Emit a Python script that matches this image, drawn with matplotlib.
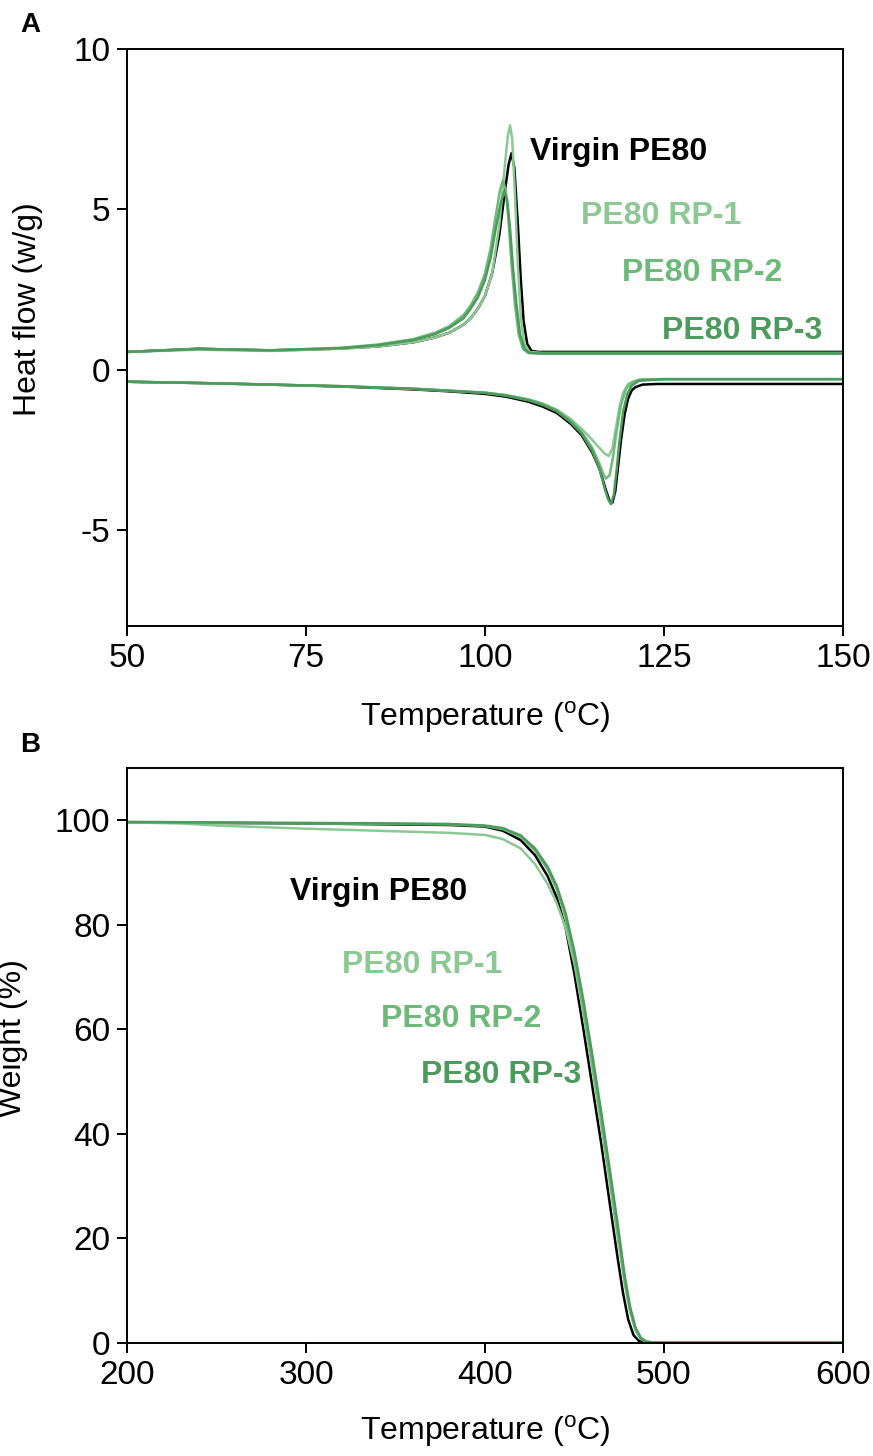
import matplotlib
matplotlib.use('Agg')
from matplotlib import pyplot as plt

plt.rcParams['font.family'] = ['Liberation Sans', 'DejaVu Sans']
plt.rcParams['mathtext.fontset'] = 'custom'
plt.rcParams['mathtext.rm'] = 'Liberation Sans'
plt.rcParams['axes.unicode_minus'] = False

# ---- DSC (panel A): cooling (upper) and heating (lower) curves ----
dsc_cool_virgin_x = [50, 55, 60, 65, 70, 75, 80, 85, 90, 93, 95, 97, 98, 99, 100, 101, 102, 102.8, 103.3, 103.7,
                     104.1, 104.6, 105.0, 105.4, 105.9, 106.5, 107.5, 110, 120, 130, 140, 150]
dsc_cool_virgin_y = [0.55, 0.6, 0.65, 0.62, 0.6, 0.62, 0.66, 0.72, 0.85, 1.0, 1.15, 1.4, 1.6, 1.9, 2.3, 3.0, 4.2, 5.6, 6.4, 6.75,
                     6.3, 4.5, 2.8, 1.5, 0.8, 0.58, 0.55, 0.55, 0.55, 0.55, 0.55, 0.55]
dsc_cool_rp1_x = [50, 60, 70, 80, 85, 90, 93, 95, 97, 98, 99, 100, 101, 102, 102.7, 103.2, 103.5, 103.8,
                  104.2, 104.6, 105.0, 105.5, 106.2, 108, 120, 150]
dsc_cool_rp1_y = [0.55, 0.62, 0.58, 0.65, 0.72, 0.85, 1.0, 1.15, 1.4, 1.6, 1.9, 2.3, 3.0, 4.5, 6.2, 7.3, 7.62, 7.2,
                  5.4, 3.2, 1.6, 0.8, 0.55, 0.52, 0.52, 0.52]
dsc_cool_rp2_x = [50, 60, 70, 80, 85, 90, 93, 95, 97, 98, 99, 100, 100.8, 101.5, 102.1, 102.5, 102.9, 103.3,
                  103.7, 104.2, 104.7, 105.3, 106, 108, 120, 150]
dsc_cool_rp2_y = [0.55, 0.65, 0.6, 0.68, 0.78, 0.95, 1.15, 1.35, 1.7, 2.0, 2.4, 3.0, 3.8, 4.8, 5.6, 5.9, 5.6, 4.6,
                  3.3, 2.0, 1.1, 0.65, 0.52, 0.5, 0.5, 0.5]
dsc_cool_rp3_x = [50, 60, 70, 80, 85, 90, 93, 95, 97, 98, 99, 100, 100.8, 101.5, 102.2, 102.7, 103.1, 103.5,
                  103.9, 104.4, 104.9, 105.5, 106.2, 108, 120, 150]
dsc_cool_rp3_y = [0.55, 0.64, 0.6, 0.67, 0.76, 0.92, 1.1, 1.3, 1.6, 1.9, 2.25, 2.8, 3.5, 4.4, 5.2, 5.55, 5.3, 4.4,
                  3.2, 2.0, 1.1, 0.65, 0.52, 0.5, 0.5, 0.5]

dsc_heat_virgin_x = [50, 60, 70, 80, 90, 95, 100, 103, 106, 108, 110, 112, 113.5, 115, 116, 116.8, 117.4, 117.8,
                     118.2, 118.6, 119, 119.5, 120, 120.5, 121, 122, 124, 130, 140, 150]
dsc_heat_virgin_y = [-0.38, -0.42, -0.47, -0.53, -0.62, -0.68, -0.76, -0.85, -1.0, -1.15, -1.35, -1.7, -2.05, -2.6, -3.1, -3.7, -4.1, -4.15,
                     -3.8, -3.0, -2.2, -1.4, -0.9, -0.65, -0.55, -0.47, -0.45, -0.45, -0.45, -0.45]
dsc_heat_rp1_x = [50, 60, 70, 80, 90, 95, 100, 103, 106, 108, 110, 112, 113.5, 115, 116, 116.7, 117.3, 117.8,
                  118.3, 118.8, 119.3, 120, 121, 122, 125, 150]
dsc_heat_rp1_y = [-0.38, -0.42, -0.47, -0.52, -0.6, -0.66, -0.72, -0.8, -0.93, -1.06, -1.25, -1.55, -1.85, -2.2, -2.45, -2.62, -2.7, -2.45,
                  -1.8, -1.15, -0.72, -0.45, -0.35, -0.3, -0.3, -0.3]
dsc_heat_rp2_x = [50, 60, 70, 80, 90, 95, 100, 103, 106, 108, 110, 112, 113.5, 115, 116, 116.5, 116.9, 117.4,
                  117.9, 118.4, 119, 119.7, 120.5, 121.5, 125, 150]
dsc_heat_rp2_y = [-0.38, -0.42, -0.47, -0.52, -0.6, -0.66, -0.72, -0.8, -0.93, -1.06, -1.27, -1.6, -1.95, -2.45, -2.95, -3.25, -3.4, -3.3,
                  -2.7, -1.9, -1.1, -0.6, -0.4, -0.32, -0.3, -0.3]
dsc_heat_rp3_x = [50, 60, 70, 80, 90, 95, 100, 103, 106, 108, 110, 112, 113.5, 115, 116, 116.7, 117.2, 117.6,
                  118.0, 118.4, 118.8, 119.3, 119.9, 120.5, 121.5, 125, 150]
dsc_heat_rp3_y = [-0.38, -0.42, -0.47, -0.52, -0.6, -0.66, -0.73, -0.82, -0.96, -1.1, -1.3, -1.65, -2.0, -2.55, -3.1, -3.7, -4.05, -4.2,
                  -3.9, -3.1, -2.2, -1.3, -0.75, -0.5, -0.35, -0.3, -0.3]

# ---- TGA (panel B) ----
tga_virgin_x = [200, 250, 300, 350, 380, 400, 410, 420, 428, 435, 440, 445, 450, 455, 460, 465, 470, 474, 477, 480,
                483, 486, 490, 500, 600]
tga_virgin_y = [99.6, 99.5, 99.4, 99.2, 99.1, 98.8, 98.0, 96.2, 93.3, 89.3, 85.3, 79.5, 70.5, 60.0, 49.0, 38.0, 26.0, 16.5, 9.8, 4.5,
                1.5, 0.4, 0.1, 0.05, 0.05]
tga_rp1_x = [200, 230, 250, 300, 350, 380, 400, 410, 420, 428, 435, 440, 445, 450, 455, 460, 465, 470, 474, 478, 481,
             484, 487, 490, 495, 600]
tga_rp1_y = [99.6, 99.4, 99.0, 98.4, 97.9, 97.6, 97.2, 96.4, 94.6, 91.6, 87.8, 84.2, 79.5, 72.5, 63.0, 52.5, 41.5, 30.0, 20.5, 11.5, 6.0,
             2.5, 0.8, 0.2, 0.05, 0.05]
tga_rp2_x = [200, 250, 300, 350, 380, 400, 410, 420, 428, 435, 440, 445, 450, 455, 460, 465, 470, 474, 478, 481, 484,
             487, 490, 495, 600]
tga_rp2_y = [99.6, 99.5, 99.4, 99.3, 99.2, 98.9, 98.3, 96.8, 94.2, 90.6, 86.9, 81.5, 73.5, 64.0, 53.5, 42.5, 31.0, 21.5, 12.0, 6.5, 2.8,
             0.9, 0.25, 0.05, 0.05]
tga_rp3_x = [200, 250, 300, 350, 380, 400, 410, 420, 428, 435, 440, 445, 450, 455, 460, 465, 470, 474, 478, 481, 484,
             487, 490, 495, 600]
tga_rp3_y = [99.7, 99.6, 99.5, 99.4, 99.3, 99.0, 98.5, 97.1, 94.6, 91.1, 87.5, 82.3, 74.8, 65.5, 55.0, 44.0, 32.5, 23.0, 13.0, 7.0, 3.0,
             1.0, 0.3, 0.05, 0.05]

names = ['Virgin PE80', 'PE80 RP-1', 'PE80 RP-2', 'PE80 RP-3']
colors = ['#000000', '#8cc893', '#6cb97a', '#4c9a5c']

# label anchor positions (data coords, left edge / vertical centre)
dsc_label_x = [106.3, 113.4, 119.1, 124.7]
dsc_label_y = [6.8, 4.8, 3.0, 1.2]
tga_label_x = [291, 320, 342, 364]
tga_label_y = [86.2, 72.4, 61.9, 51.3]

FS = 23

fig = plt.figure(figsize=(8.73, 14.56), dpi=100)
axA = fig.add_axes([0.1455, 0.5701, 0.8201, 0.3962])
axB = fig.add_axes([0.1455, 0.0776, 0.8201, 0.3949])

cool = [(dsc_cool_virgin_x, dsc_cool_virgin_y), (dsc_cool_rp1_x, dsc_cool_rp1_y),
        (dsc_cool_rp2_x, dsc_cool_rp2_y), (dsc_cool_rp3_x, dsc_cool_rp3_y)]
heat = [(dsc_heat_virgin_x, dsc_heat_virgin_y), (dsc_heat_rp1_x, dsc_heat_rp1_y),
        (dsc_heat_rp2_x, dsc_heat_rp2_y), (dsc_heat_rp3_x, dsc_heat_rp3_y)]
tga = [(tga_virgin_x, tga_virgin_y), (tga_rp1_x, tga_rp1_y),
       (tga_rp2_x, tga_rp2_y), (tga_rp3_x, tga_rp3_y)]

for i in range(4):
    axA.plot(*cool[i], color=colors[i], lw=1.8, solid_capstyle='round')
    axA.plot(*heat[i], color=colors[i], lw=1.8, solid_capstyle='round')
    axB.plot(*tga[i], color=colors[i], lw=1.8, solid_capstyle='round')

for i in range(4):
    axA.text(dsc_label_x[i], dsc_label_y[i], names[i], color=colors[i], fontsize=FS,
             fontweight='bold', va='center', ha='left')
    axB.text(tga_label_x[i], tga_label_y[i], names[i], color=colors[i], fontsize=FS,
             fontweight='bold', va='center', ha='left')

axA.set_xlim(50, 150)
axA.set_ylim(-8, 10)
axA.set_xticks([50, 75, 100, 125, 150])
axA.set_yticks([-5, 0, 5, 10])
axB.set_xlim(200, 600)
axB.set_ylim(0, 110)
axB.set_xticks([200, 300, 400, 500, 600])
axB.set_yticks([0, 20, 40, 60, 80, 100])

xlab = r'Temperature ($^{\mathrm{o}}$C)'
axA.set_xlabel(xlab, fontsize=FS)
axB.set_xlabel(xlab, fontsize=FS)
axA.set_ylabel('Heat flow (w/g)', fontsize=FS)
axB.set_ylabel('Weight (%)', fontsize=FS)
axA.xaxis.set_label_coords(0.5, -0.127)
axB.xaxis.set_label_coords(0.5, -0.123)
axA.yaxis.set_label_coords(-0.117, 0.55)
axB.yaxis.set_label_coords(-0.138, 0.53)

for ax in (axA, axB):
    for sp in ax.spines.values():
        sp.set_linewidth(1.4)
    ax.tick_params(direction='out', length=7, width=1.4, labelsize=24, pad=5)

fig.text(30 / 873, 1 - 25 / 1456, 'A', fontsize=20, fontweight='bold', va='center', ha='center')
fig.text(30 / 873, 1 - 745 / 1456, 'B', fontsize=20, fontweight='bold', va='center', ha='center')

fig.savefig('out.png', dpi=100)
